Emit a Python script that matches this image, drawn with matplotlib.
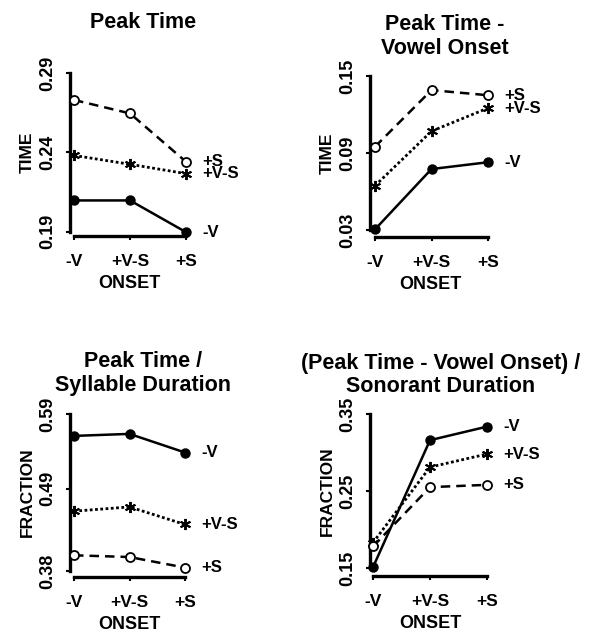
import matplotlib
matplotlib.use("Agg")
import matplotlib.pyplot as plt

plt.rcParams['font.family'] = ['Liberation Sans', 'DejaVu Sans']
plt.rcParams['font.weight'] = 'bold'

W, H = 589, 635
DPI = 100

onset = ["-V", "+V-S", "+S"]
series = ["-V", "+V-S", "+S"]

# panel values (series x onset)
peak_time = {"-V": [0.2096, 0.2096, 0.1896],
             "+V-S": [0.238, 0.2324, 0.2265],
             "+S": [0.273, 0.2645, 0.234]}
peak_minus_vowel = {"-V": [0.0305, 0.0775, 0.0828],
                    "+V-S": [0.0645, 0.107, 0.125],
                    "+S": [0.0949, 0.139, 0.135]}
peak_over_syll = {"-V": [0.5607, 0.5634, 0.5385],
                  "+V-S": [0.460, 0.4657, 0.4422],
                  "+S": [0.401, 0.3987, 0.3845]}
pmv_over_son = {"-V": [0.151, 0.316, 0.3336],
                "+V-S": [0.183, 0.281, 0.298],
                "+S": [0.178, 0.255, 0.258]}

yticks1 = [0.19, 0.24, 0.29]
yticks2 = [0.03, 0.09, 0.15]
yticks3 = [0.38, 0.49, 0.59]
yticks4 = [0.15, 0.25, 0.35]

titles = ["Peak Time", "Peak Time -\nVowel Onset",
          "Peak Time /\nSyllable Duration",
          "(Peak Time - Vowel Onset) /\nSonorant Duration"]
ylabels = ["TIME", "TIME", "FRACTION", "FRACTION"]
xlabel = "ONSET"

styles = {
    "-V": dict(linestyle='-', lw=1.8, marker='o', ms=6.5, mfc='black', mec='black'),
    "+V-S": dict(linestyle=(0, (1.0, 0.9)), lw=2.0, marker=(6, 2, 0), ms=8, mec='black', mew=1.4),
    "+S": dict(linestyle=(0, (3.8, 2.4)), lw=1.8, marker='o', ms=6.5, mfc='white', mec='black', mew=1.3),
}

fig = plt.figure(figsize=(W / DPI, H / DPI), dpi=DPI)


def px_axes(spine_x, cat0, cat2, ytop_px, ybot_px):
    step = (cat2 - cat0) / 2.0
    xmin = -(cat0 - spine_x) / step
    xmax = 2.0 + 3.0 / step
    left = spine_x
    width = (xmax - xmin) * step
    ax = fig.add_axes([left / W, 1 - ybot_px / H, width / W, (ybot_px - ytop_px) / H])
    ax.set_xlim(xmin, xmax)
    return ax


panels = [
    (peak_time, yticks1, (70, 74, 186, 73, 231.5), (143, 22), 3.5),
    (peak_minus_vowel, yticks2, (370, 375, 488, 76, 230), (445, 36.5), 5),
    (peak_over_syll, yticks3, (70, 74, 185, 414, 571), (143, 373.5), 4.5),
    (pmv_over_son, yticks4, (370, 373, 487, 414, 568), (440.5, 375), 6),
]

for i, (data, yt, geo, tpos, outw) in enumerate(panels):
    ax = px_axes(*geo)
    ax.set_ylim(yt[0], yt[-1])
    xs = list(range(len(onset)))
    for s in series:
        ax.plot(xs, data[s], color='black', clip_on=False, zorder=3, **styles[s])
        ax.annotate(s, xy=(xs[-1], data[s][-1]), xytext=(12, 0),
                    textcoords='offset points', va='center', ha='left',
                    fontsize=12, fontweight='bold', annotation_clip=False)
    for sp in ['top', 'right']:
        ax.spines[sp].set_visible(False)
    ax.spines['left'].set_linewidth(2.4)
    ax.spines['bottom'].set_linewidth(2.4)
    ax.spines['bottom'].set_position(('outward', outw))
    ax.spines['bottom'].set_bounds(0, 2)
    ax.spines['left'].set_bounds(yt[0], yt[-1])
    ax.set_xticks(xs)
    ax.set_xticklabels(onset, fontsize=12.5, fontweight='bold')
    ax.set_yticks(yt)
    ax.set_yticklabels([f"{v:.2f}" for v in yt], rotation=90, va='center',
                       fontsize=13, fontweight='bold')
    ax.tick_params(axis='both', direction='out', length=3, width=1.5)
    ax.tick_params(axis='y', pad=7)
    ax.tick_params(axis='x', pad=10)
    ax.set_xlabel(xlabel, fontsize=13, fontweight='bold', labelpad=4)
    ax.set_ylabel(ylabels[i], fontsize=12.5, fontweight='bold', labelpad=3)
    ax.patch.set_visible(False)
    tx, ty = tpos
    fig.text(tx / W, 1 - ty / H, titles[i], ha='center', va='center',
             fontsize=15.5, fontweight='bold', linespacing=1.15)

fig.savefig("out.png", dpi=DPI)
